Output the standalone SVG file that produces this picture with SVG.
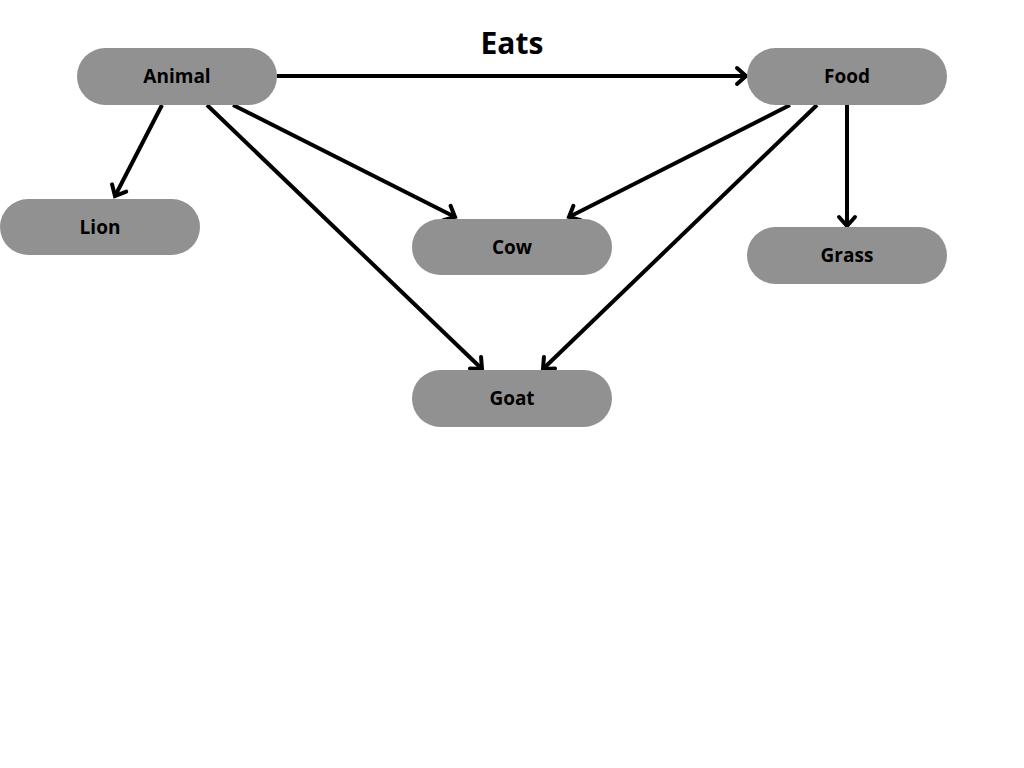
<svg xmlns="http://www.w3.org/2000/svg" width="1024" height="768" viewBox="0 0 1024 768">
<style>
.node rect{fill:#919191;}
.node text{font-family:"Open Sans","Liberation Sans",sans-serif;font-weight:bold;font-size:19px;fill:#000;text-anchor:middle;dominant-baseline:central;}
.edge{stroke:#000;stroke-width:4;fill:none;marker-end:url(#arr);}
.title{font-family:"Open Sans","Liberation Sans",sans-serif;font-weight:bold;font-size:30px;fill:#000;text-anchor:middle;}
</style>
<defs>
<marker id="arr" markerUnits="userSpaceOnUse" viewBox="-14 -12 18 24" markerWidth="18" markerHeight="24" refX="0" refY="0" orient="auto">
<path d="M-9,-8 L0,0 L-9,8" fill="none" stroke="#000" stroke-width="4" stroke-linecap="round" stroke-linejoin="miter"/>
</marker>
</defs>
<rect width="1024" height="768" fill="#fff"/>
<text class="title" x="512" y="54">Eats</text>
<g id="connectors">
<line class="edge" x1="277" y1="76" x2="746" y2="76"/>
<line class="edge" x1="162" y1="105" x2="115" y2="196"/>
<line class="edge" x1="207" y1="105" x2="482" y2="369"/>
<line class="edge" x1="233" y1="105" x2="455" y2="217"/>
<line class="edge" x1="790" y1="105" x2="569" y2="217"/>
<line class="edge" x1="817" y1="105" x2="543" y2="369"/>
<line class="edge" x1="847" y1="105" x2="847" y2="226"/>
</g>
<g id="animal" class="node"><rect x="77" y="48" width="200" height="57" rx="28.5"/><text x="177" y="76">Animal</text></g>
<g id="food" class="node"><rect x="747" y="48" width="200" height="57" rx="28.5"/><text x="847" y="76">Food</text></g>
<g id="lion" class="node"><rect x="0" y="199" width="200" height="56" rx="28"/><text x="100" y="226.5">Lion</text></g>
<g id="cow" class="node"><rect x="412" y="219" width="200" height="56" rx="28"/><text x="512" y="246.5">Cow</text></g>
<g id="grass" class="node"><rect x="747" y="227" width="200" height="57" rx="28.5"/><text x="847" y="255">Grass</text></g>
<g id="goat" class="node"><rect x="412" y="370" width="200" height="57" rx="28.5"/><text x="512" y="398">Goat</text></g>
</svg>
